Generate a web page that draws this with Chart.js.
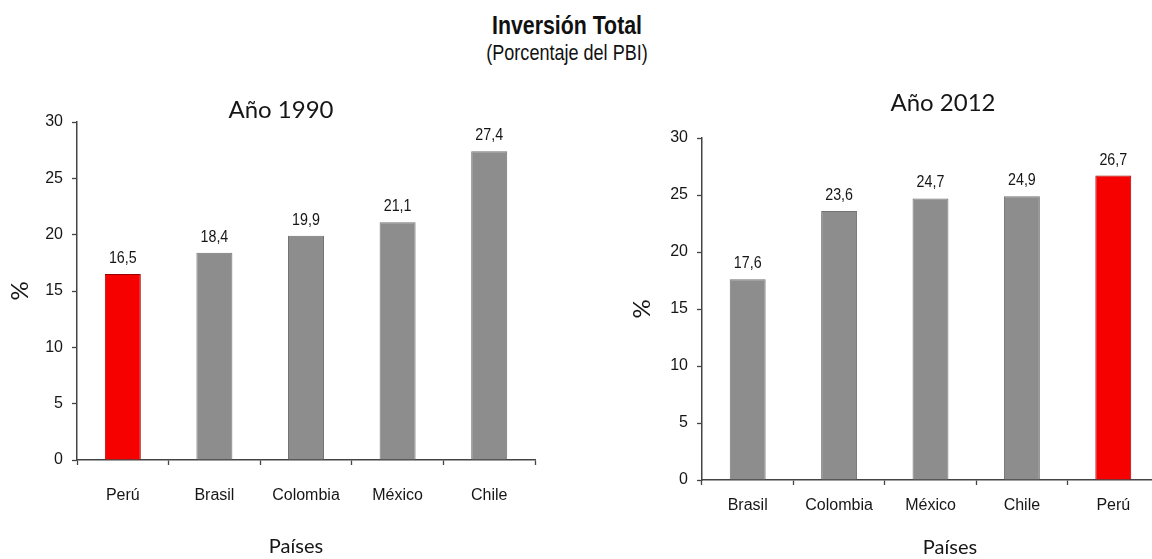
<!DOCTYPE html>
<html lang="es">
<head>
<meta charset="utf-8">
<title>Inversión Total</title>
<script src="https://cdn.jsdelivr.net/npm/chart.js@4.4.1/dist/chart.umd.min.js"></script>
<style>
  html, body { margin: 0; padding: 0; background: #fff; }
  body { width: 1152px; height: 559px; overflow: hidden; position: relative; }
  /* narrow headline lettering: regular sans squeezed horizontally */
  .head { position: absolute; left: 0; width: 1134px; text-align: center; color: #111;
          font-family: "Liberation Sans Narrow", "Arial Narrow", "Liberation Sans", Arial, sans-serif;
          transform: scaleX(0.82); transform-origin: 567px 0; }
  #title { top: 10px; font-size: 26px; line-height: 30px; font-weight: bold; }
  #subtitle { top: 41px; font-size: 22px; line-height: 24px; }
  canvas { position: absolute; top: 0; }
  #c1990 { left: 0; }
  #c2012 { left: 576px; }
</style>
</head>
<body>
<div id="title" class="head">Inversión Total</div>
<div id="subtitle" class="head">(Porcentaje del PBI)</div>
<canvas id="c1990" width="576" height="559"></canvas>
<canvas id="c2012" width="620" height="559"></canvas>
<script>
// Investment as % of GDP by country
const categories1990 = ['Perú', 'Brasil', 'Colombia', 'México', 'Chile'];
const values1990 = [16.5, 18.4, 19.9, 21.1, 27.4];
const categories2012 = ['Brasil', 'Colombia', 'México', 'Chile', 'Perú'];
const values2012 = [17.6, 23.6, 24.7, 24.9, 26.7];
const yTickValues = [0, 5, 10, 15, 20, 25, 30];
const highlighted = 'Perú';

const NARROW = '"Liberation Sans Narrow", "Arial Narrow", "Liberation Sans", Arial, sans-serif';
const HUMANIST = 'Lato, "Open Sans", sans-serif';
const RED = '#f60000', RED_EDGE = '#9a0000';
const GRAY = '#8d8d8d', GRAY_EDGE = '#737373';
const AXIS = '#444444', TEXT = '#161616';

// value printed above each bar, decimal comma, condensed lettering
function valueLabels(offset) {
  return {
    id: 'valueLabels',
    afterDatasetsDraw(chart) {
      const ctx = chart.ctx;
      const ds = chart.data.datasets[0];
      chart.getDatasetMeta(0).data.forEach((bar, i) => {
        ctx.save();
        ctx.font = '17px ' + NARROW;
        ctx.fillStyle = TEXT;
        ctx.textAlign = 'center';
        ctx.textBaseline = 'alphabetic';
        ctx.translate(bar.x, bar.y - offset);
        ctx.scale(0.84, 1);
        ctx.fillText(ds.data[i].toFixed(1).replace('.', ','), 0, 0);
        ctx.restore();
      });
    }
  };
}

// panel heading and category-axis caption
function panelText(items) {
  return {
    id: 'panelText',
    afterDraw(chart) {
      const ctx = chart.ctx;
      items.forEach(it => {
        ctx.save();
        ctx.font = it.font;
        ctx.fillStyle = TEXT;
        ctx.textAlign = 'center';
        ctx.textBaseline = 'middle';
        ctx.fillText(it.text, it.x, it.y);
        ctx.restore();
      });
    }
  };
}

function makePanel(canvasId, labels, values, p) {
  return new Chart(document.getElementById(canvasId), {
    type: 'bar',
    data: {
      labels: labels,
      datasets: [{
        data: values,
        backgroundColor: labels.map(c => c === highlighted ? RED : GRAY),
        borderColor: labels.map(c => c === highlighted ? RED_EDGE : GRAY_EDGE),
        borderWidth: 1,
        borderSkipped: 'bottom',
        barPercentage: 0.393,
        categoryPercentage: 1
      }]
    },
    options: {
      responsive: false,
      animation: false,
      devicePixelRatio: 1,
      layout: { padding: { left: 0, right: p.padRight, top: p.padTop, bottom: 0 } },
      plugins: { legend: { display: false }, tooltip: { enabled: false }, title: { display: false } },
      scales: {
        x: {
          grid: { display: true, drawOnChartArea: false, drawTicks: true, tickLength: 5,
                  tickColor: AXIS, tickWidth: 1.3, offset: true },
          border: { display: true, color: AXIS, width: 1.5 },
          ticks: { font: { family: NARROW, size: 16 }, color: TEXT, padding: p.xPad, maxRotation: 0 },
          afterFit(s) { s.height = p.xHeight; }
        },
        y: {
          min: 0, max: 30,
          afterBuildTicks(s) { s.ticks = yTickValues.map(v => ({ value: v })); },
          ticks: { font: { family: NARROW, size: 16 }, color: TEXT, padding: 9 },
          grid: { display: true, drawOnChartArea: false, drawTicks: true, tickLength: 5,
                  tickColor: AXIS, tickWidth: 1.3 },
          border: { display: true, color: AXIS, width: 1.5 },
          title: { display: true, text: '%', color: TEXT,
                   font: { family: HUMANIST, size: 24 }, padding: { top: p.yTitlePad, bottom: 0 } },
          afterFit(s) { s.width = p.yWidth; }
        }
      }
    },
    plugins: [valueLabels(11), panelText(p.texts)]
  });
}

makePanel('c1990', categories1990, values1990, {
  padRight: 41, padTop: 122, yWidth: 77, xHeight: 99, xPad: 21, yTitlePad: 6,
  texts: [
    { text: 'Año 1990', x: 281, y: 110, font: '24px ' + HUMANIST },
    { text: 'Países', x: 296, y: 547, font: '20px ' + HUMANIST }
  ]
});

makePanel('c2012', categories2012, values2012, {
  padRight: 37, padTop: 138, yWidth: 126, xHeight: 79, xPad: 11, yTitlePad: 52,
  texts: [
    { text: 'Año 2012', x: 367, y: 103, font: '24px ' + HUMANIST },
    { text: 'Países', x: 374, y: 548, font: '20px ' + HUMANIST }
  ]
});
</script>
</body>
</html>
